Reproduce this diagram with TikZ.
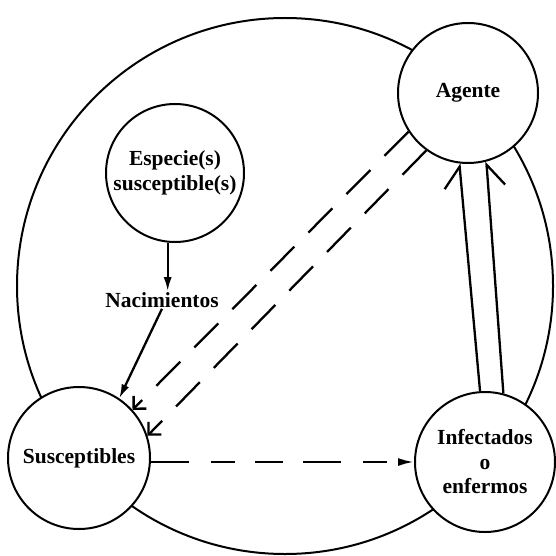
\documentclass[tikz,border=0pt]{standalone}
\usepackage{fontspec}
\setmainfont{Liberation Serif}
\usetikzlibrary{arrows.meta}
\begin{document}
\begin{tikzpicture}[x=1pt,y=-1pt,
  labelfont/.style={font=\fontsize{21.5}{24.5}\selectfont\bfseries},
  stage/.style={circle, draw, line width=2pt, fill=white, minimum size=140pt,
    inner sep=0pt, align=center, labelfont},
  link/.style={line width=2.3pt},
  dashlink/.style={link, dash pattern=on 34pt off 20pt},
  hdashlink/.style={link, dash pattern=on 38pt off 22pt on 24pt off 20pt on 28pt off 20pt},
  filledtip/.style={-{Latex[length=14pt,width=8pt]}},
  vtip/.style={-{Straight Barb[length=9pt,width=18pt]}},
  halftip/.style={-{Straight Barb[harpoon,length=21pt,width=34pt]}},
  halftipswap/.style={-{Straight Barb[harpoon,swap,length=21pt,width=34pt]}}
]
\useasboundingbox (0,0) rectangle (556,556);

% outer cycle
\draw[line width=2pt] (285,286) circle[radius=268];

% stages of the cycle
\node[stage] (agente) at (468,93) {Agente};
\node[stage, minimum size=138pt] (especie) at (175,173) {Especie(s)\\susceptible(s)};
\node[stage, minimum size=142pt] (susc) at (79,458) {Susceptibles};
\node[stage] (infect) at (485,462) {Infectados\\o\\enfermos};
\node[labelfont, inner sep=1pt] (nac) at (162,300) {Nacimientos};

% births
\draw[link, filledtip] (especie.264) -- (especie.264 |- nac.north);
\draw[link, filledtip] (nac.south) -- (susc.56.5);

% agent reaching the susceptibles
\draw[dashlink, vtip] (agente.213.7) -- (susc.42);
\draw[dashlink, vtip] (agente.234.7) -- (susc.18.9);

% infection
\draw[hdashlink, -{Latex[length=16pt,width=8pt]}] (susc.east |- infect.west) -- (infect.west);

% infected releasing the agent
\draw[link, halftip] (infect.94.9) -- (agente.263.7);
\draw[link, halftipswap] (infect.75.6) -- (agente.285.2);
\end{tikzpicture}
\end{document}
